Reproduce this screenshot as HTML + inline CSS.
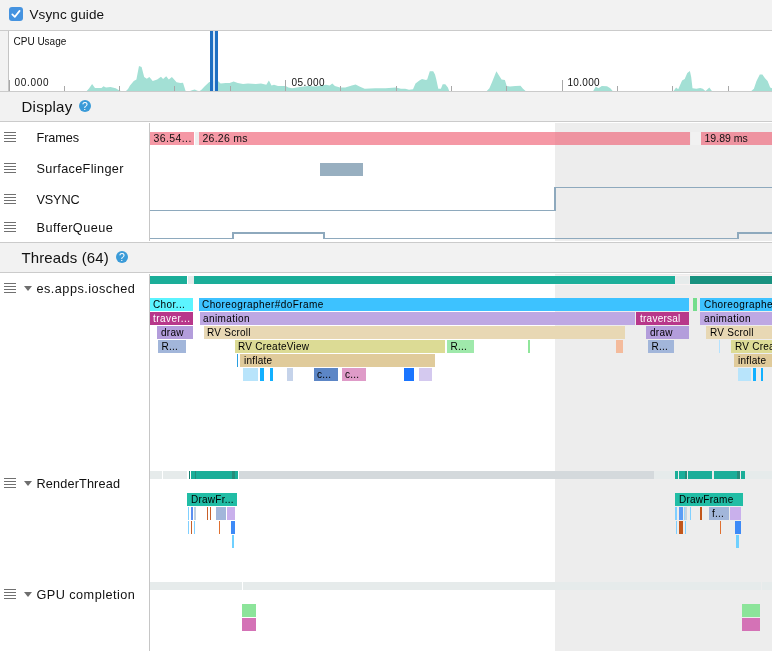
<!DOCTYPE html>
<html><head><meta charset="utf-8"><title>Profiler</title>
<style>
html,body{margin:0;padding:0;}
body{width:772px;height:651px;overflow:hidden;background:#fff;position:relative;will-change:transform;font-family:"Liberation Sans",sans-serif;color:#111;}
div,span{position:absolute;box-sizing:border-box;}
.panel{background:#f2f2f2;left:0;width:772px;}
.hl{left:0;width:772px;height:1px;background:#cbcbcb;}
.t13{font-size:12.7px;line-height:16px;white-space:nowrap;letter-spacing:0.25px;}
.t15{font-size:15px;line-height:18px;white-space:nowrap;}
.t10{font-size:10px;line-height:12px;white-space:nowrap;}
.bl{left:4px;width:12px;height:1px;background:#707070;}
.ev{overflow:hidden;}
.ev span{top:0;font-size:10px;line-height:13px;white-space:nowrap;letter-spacing:0.25px;}
.help{width:12px;height:12px;border-radius:6px;background:#3b9bd8;color:#fff;font-size:10.5px;font-weight:normal;line-height:13px;text-align:center;}
.tri{width:0;height:0;border-left:4px solid transparent;border-right:4px solid transparent;border-top:5px solid #6e6e6e;}
</style></head><body>
<!-- toolbar -->
<div class="panel" style="top:0;height:30px"></div>
<div class="hl" style="top:30px"></div>
<div style="left:9px;top:7px;width:14px;height:14px;border-radius:3px;background:#4593e0"><svg width="14" height="14" viewBox="0 0 14 14" style="position:absolute;left:0;top:0"><path d="M3.3 7.4 L5.8 9.9 L10.6 3.9" fill="none" stroke="#fff" stroke-width="1.7" stroke-linecap="round" stroke-linejoin="round"/></svg></div>
<div class="t13" style="left:29.5px;top:7px;font-size:13.5px;letter-spacing:0.1px">Vsync guide</div>
<!-- cpu -->
<div style="left:0;top:31px;width:8px;height:60px;background:#f2f2f2"></div>
<div style="left:8px;top:31px;width:1px;height:60px;background:#c4c4c4"></div>
<svg width="772" height="60" viewBox="0 0 772 60" style="position:absolute;left:0;top:31px">
<polygon points="86.7,60.0 89.0,57.5 92.1,53.0 95.0,56.9 101.5,56.9 103.5,55.3 106.0,56.6 110.5,55.9 115.7,57.2 119.0,59.2 121.0,60.0" fill="#a3e0d5"/>
<polygon points="126.0,60.0 128.0,58.0 130.0,54.6 133.8,49.9 136.4,48.6 139.0,35.1 141.6,35.9 144.2,46.0 146.8,47.8 149.4,46.0 152.7,49.9 157.2,48.6 161.0,45.8 163.1,48.1 166.2,45.2 168.8,48.6 171.9,46.0 176.6,51.2 180.5,52.0 183.0,51.7 185.6,60.0" fill="#a3e0d5"/>
<polygon points="190.0,60.0 192.0,59.2 194.7,58.5 197.5,59.8 199.0,60.0" fill="#a3e0d5"/>
<polygon points="199.5,60.0 201.2,59.0 205.0,55.0 209.0,51.2 214.1,49.4 218.0,50.0 220.6,52.5 225.8,52.0 229.7,52.0 233.6,50.4 237.8,52.0 243.0,53.0 248.0,52.5 255.9,53.0 261.0,52.5 266.3,53.8 268.9,49.4 271.5,54.6 274.0,53.8 278.0,55.0 285.7,55.0 288.3,56.6 292.2,57.2 300.0,56.0 307.7,55.0 315.5,55.6 325.9,53.8 329.7,54.6 332.3,52.5 334.9,55.0 340.0,56.4 345.3,56.6 351.8,54.6 355.6,53.5 359.5,55.6 364.7,57.7 375.0,57.2 385.4,57.2 395.8,56.6 401.0,57.7 405.2,57.7 409.0,58.7 413.0,58.2 415.5,52.5 419.4,49.4 422.0,48.1 425.9,49.1 427.2,48.6 429.8,40.3 433.2,40.3 435.0,43.4 436.3,48.6 438.3,57.7 440.9,57.7 442.7,53.3 445.3,53.3 447.9,56.4 449.2,60.0" fill="#a3e0d5"/>
<polygon points="486.8,60.0 489.4,57.2 492.0,51.2 494.6,44.7 496.4,40.3 498.4,43.4 501.6,48.6 504.9,49.1 506.7,55.1 510.0,55.6 515.3,55.1 520.5,54.8 523.0,57.7 525.6,60.0" fill="#a3e0d5"/>
<polygon points="593.2,60.0 595.8,55.6 598.4,57.2 601.8,55.1 607.0,55.3 610.3,57.2 612.7,60.0" fill="#a3e0d5"/>
<polygon points="673.6,60.0 676.1,56.4 678.2,58.2 682.1,49.4 684.7,48.1 687.3,42.1 689.9,40.0 691.2,46.0 692.5,57.2 696.4,57.7 700.2,56.9 702.8,57.7 705.4,60.0 706.7,59.0 709.3,56.6 711.9,60.0" fill="#a3e0d5"/>
<polygon points="751.3,60.0 753.9,57.7 756.5,49.9 759.8,43.4 762.4,43.4 765.0,47.3 767.6,49.9 770.2,56.4 772.0,57.2 772.0,60.0" fill="#a3e0d5"/>
<rect x="9" y="49" width="1" height="11" fill="#a8a8a8"/>
<rect x="64" y="55" width="1" height="5" fill="#a8a8a8"/>
<rect x="119" y="55" width="1" height="5" fill="#a8a8a8"/>
<rect x="174" y="55" width="1" height="5" fill="#a8a8a8"/>
<rect x="230" y="55" width="1" height="5" fill="#a8a8a8"/>
<rect x="285" y="49" width="1" height="11" fill="#a8a8a8"/>
<rect x="340" y="55" width="1" height="5" fill="#a8a8a8"/>
<rect x="396" y="55" width="1" height="5" fill="#a8a8a8"/>
<rect x="451" y="55" width="1" height="5" fill="#a8a8a8"/>
<rect x="506" y="55" width="1" height="5" fill="#a8a8a8"/>
<rect x="562" y="49" width="1" height="11" fill="#a8a8a8"/>
<rect x="617" y="55" width="1" height="5" fill="#a8a8a8"/>
<rect x="672" y="55" width="1" height="5" fill="#a8a8a8"/>
<rect x="728" y="55" width="1" height="5" fill="#a8a8a8"/>

<rect x="210" y="0" width="3" height="60" fill="#1e6fc2"/>
<rect x="213" y="0" width="2" height="60" fill="#d2e4f6" fill-opacity="0.9"/>
<rect x="215" y="0" width="3" height="60" fill="#1e6fc2"/>
</svg>
<div class="t10" style="left:13.5px;top:36px;letter-spacing:0">CPU Usage</div>
<div class="t10" style="left:14.5px;top:77px;letter-spacing:0.7px">00.000</div>
<div class="t10" style="left:291.5px;top:77px;letter-spacing:0.5px">05.000</div>
<div class="t10" style="left:567.5px;top:77px;letter-spacing:0.3px">10.000</div>
<div class="hl" style="top:91px"></div>
<!-- display header -->
<div class="panel" style="top:92px;height:29px"></div>
<div class="t15" style="left:21.5px;top:98px;letter-spacing:0.25px">Display</div>
<div class="help" style="left:79px;top:100px">?</div>
<div class="hl" style="top:121px"></div>
<!-- display rows -->
<div class="bl" style="top:132px"></div><div class="bl" style="top:135px"></div><div class="bl" style="top:138px"></div><div class="bl" style="top:141px"></div>
<div class="bl" style="top:163px"></div><div class="bl" style="top:166px"></div><div class="bl" style="top:169px"></div><div class="bl" style="top:172px"></div>
<div class="bl" style="top:194px"></div><div class="bl" style="top:197px"></div><div class="bl" style="top:200px"></div><div class="bl" style="top:203px"></div>
<div class="bl" style="top:222px"></div><div class="bl" style="top:225px"></div><div class="bl" style="top:228px"></div><div class="bl" style="top:231px"></div>

<div class="t13" style="left:36.5px;top:129.5px;letter-spacing:-0.1px">Frames</div>
<div class="t13" style="left:36.5px;top:160.5px;letter-spacing:0.34px">SurfaceFlinger</div>
<div class="t13" style="left:36.5px;top:191.5px;letter-spacing:-0.16px">VSYNC</div>
<div class="t13" style="left:36.5px;top:219.5px;letter-spacing:0.45px">BufferQueue</div>
<div style="left:149px;top:123px;width:1px;height:118px;background:#c6c6c6"></div>
<div style="left:555px;top:123px;width:217px;height:118px;background:#ededed"></div>
<!-- frames -->
<div class="ev" style="left:150px;top:132px;width:44px;height:13px;background:#f598a5"><span style="left:3.5px;font-size:10.5px;letter-spacing:0.4px">36.54...</span></div>
<div style="left:195px;top:132px;width:3.5px;height:13px;background:#efefef"></div>
<div class="ev" style="left:199px;top:132px;width:491px;height:13px;background:linear-gradient(90deg,#f598a5 356px,#ee93a0 356px)"><span style="left:3.5px;font-size:10.5px;letter-spacing:0.25px">26.26 ms</span></div>
<div style="left:690.5px;top:132px;width:10px;height:13px;background:#f1f1f1"></div>
<div class="ev" style="left:701px;top:132px;width:71px;height:13px;background:#ee93a0"><span style="left:3.5px;font-size:10.5px;letter-spacing:0.02px">19.89 ms</span></div>
<!-- surfaceflinger -->
<div style="left:320px;top:163px;width:43px;height:13px;background:#98afc0"></div>
<!-- vsync -->
<div style="left:150px;top:210px;width:406px;height:1px;background:#8ea9bd"></div>
<div style="left:554px;top:187px;width:2px;height:24px;background:#8ea9bd"></div>
<div style="left:554px;top:187px;width:218px;height:1px;background:#8ea9bd"></div>
<!-- bufferqueue -->
<div style="left:150px;top:238px;width:84px;height:1px;background:#8ea9bd"></div>
<div style="left:232px;top:232px;width:2px;height:7px;background:#8ea9bd"></div>
<div style="left:232px;top:232px;width:93px;height:2px;background:#8ea9bd"></div>
<div style="left:323px;top:232px;width:2px;height:7px;background:#8ea9bd"></div>
<div style="left:323px;top:238px;width:416px;height:1px;background:#8ea9bd"></div>
<div style="left:737px;top:232px;width:2px;height:7px;background:#8ea9bd"></div>
<div style="left:737px;top:232px;width:35px;height:2px;background:#8ea9bd"></div>
<div class="hl" style="top:242px"></div>
<!-- threads header -->
<div class="panel" style="top:243px;height:29px"></div>
<div class="t15" style="left:21.5px;top:249px;letter-spacing:0.12px">Threads (64)</div>
<div class="help" style="left:116px;top:251px">?</div>
<div class="hl" style="top:272px"></div>
<!-- threads -->
<div style="left:555px;top:274px;width:217px;height:377px;background:#ededed"></div>
<div style="left:149px;top:274px;width:1px;height:377px;background:#c6c6c6"></div>
<div class="bl" style="top:283px"></div><div class="bl" style="top:286px"></div><div class="bl" style="top:289px"></div><div class="bl" style="top:292px"></div>
<div class="bl" style="top:478px"></div><div class="bl" style="top:481px"></div><div class="bl" style="top:484px"></div><div class="bl" style="top:487px"></div>
<div class="bl" style="top:589px"></div><div class="bl" style="top:592px"></div><div class="bl" style="top:595px"></div><div class="bl" style="top:598px"></div>

<div class="tri" style="left:24px;top:286px"></div>
<div class="tri" style="left:24px;top:481px"></div>
<div class="tri" style="left:24px;top:592px"></div>
<div class="t13" style="left:36.5px;top:281px;letter-spacing:0.47px">es.apps.iosched</div>
<div class="t13" style="left:36.5px;top:475.5px;letter-spacing:0.15px">RenderThread</div>
<div class="t13" style="left:36.5px;top:586.5px;letter-spacing:0.45px">GPU completion</div>
<div class="sb" style="left:555px;top:275px;width:217px;height:1px;background:#f8f2f2"></div>
<div class="sb" style="left:555px;top:284px;width:217px;height:1px;background:#f8f2f2"></div>
<div class="sb" style="left:150px;top:276px;width:37px;height:8px;background:#1bae99"></div>
<div class="sb" style="left:188px;top:276px;width:5.5px;height:8px;background:#e6ebeb"></div>
<div class="sb" style="left:194px;top:276px;width:481px;height:8px;background:#1bae99"></div>
<div class="sb" style="left:676px;top:276px;width:13px;height:8px;background:#e6ebeb"></div>
<div class="sb" style="left:690px;top:276px;width:82px;height:8px;background:#18917f"></div>
<div class="sb" style="left:150px;top:471px;width:12px;height:8px;background:#e6ebeb"></div>
<div class="sb" style="left:163px;top:471px;width:24px;height:8px;background:#e6ebeb"></div>
<div class="sb" style="left:189px;top:471px;width:1px;height:8px;background:#157f6f"></div>
<div class="sb" style="left:191px;top:471px;width:47px;height:8px;background:#1bae99"></div>
<div class="sb" style="left:195px;top:471px;width:1px;height:8px;background:#268c7a"></div>
<div class="sb" style="left:232px;top:471px;width:3px;height:8px;background:#268c7a"></div>
<div class="sb" style="left:239px;top:471px;width:415px;height:8px;background:#d4d9dc"></div>
<div class="sb" style="left:654px;top:471px;width:21px;height:8px;background:#e6ebeb"></div>
<div class="sb" style="left:675px;top:471px;width:3px;height:8px;background:#1bae99"></div>
<div class="sb" style="left:679px;top:471px;width:8px;height:8px;background:#1bae99"></div>
<div class="sb" style="left:685px;top:471px;width:2px;height:8px;background:#268c7a"></div>
<div class="sb" style="left:688px;top:471px;width:24px;height:8px;background:#1bae99"></div>
<div class="sb" style="left:714px;top:471px;width:26px;height:8px;background:#1bae99"></div>
<div class="sb" style="left:737px;top:471px;width:3px;height:8px;background:#268c7a"></div>
<div class="sb" style="left:741px;top:471px;width:4px;height:8px;background:#1bae99"></div>
<div class="sb" style="left:745px;top:471px;width:27px;height:8px;background:#e6ebeb"></div>
<div class="sb" style="left:150px;top:582px;width:92px;height:8px;background:#e6ebeb"></div>
<div class="sb" style="left:243px;top:582px;width:518px;height:8px;background:#e6ebeb"></div>
<div class="sb" style="left:762px;top:582px;width:10px;height:8px;background:#e6ebeb"></div>

<div class="ev " style="left:150px;top:298px;width:43px;height:13px;background:#5cf4ff"><span style="left:3px;color:#000;letter-spacing:0.4px">Chor...</span></div>
<div class="ev " style="left:199px;top:298px;width:490px;height:13px;background:#3dc2ff"><span style="left:3px;color:#000;letter-spacing:0.42px">Choreographer#doFrame</span></div>
<div class="ev " style="left:693px;top:298px;width:4px;height:13px;background:#74dd8c"></div>
<div class="ev " style="left:700px;top:298px;width:72px;height:13px;background:#3dc2ff"><span style="left:4px;color:#000;letter-spacing:0.42px">Choreographer#doFrame</span></div>
<div class="ev " style="left:150px;top:312px;width:43px;height:13px;background:#b8378a"><span style="left:3px;color:#fff;letter-spacing:0.45px">traver...</span></div>
<div class="ev " style="left:200px;top:312px;width:435px;height:13px;background:#bea8e3"><span style="left:3px;color:#000;letter-spacing:0.4px">animation</span></div>
<div class="ev " style="left:636px;top:312px;width:53px;height:13px;background:#b8378a"><span style="left:4px;color:#fff">traversal</span></div>
<div class="ev " style="left:700px;top:312px;width:72px;height:13px;background:#bea8e3"><span style="left:4px;color:#000;letter-spacing:0.4px">animation</span></div>
<div class="ev " style="left:157px;top:326px;width:36px;height:13px;background:#b39ddb"><span style="left:4px;color:#000">draw</span></div>
<div class="ev " style="left:204px;top:326px;width:421px;height:13px;background:#e8d8b4"><span style="left:3px;color:#000">RV Scroll</span></div>
<div class="ev " style="left:646px;top:326px;width:43px;height:13px;background:#b39ddb"><span style="left:4px;color:#000">draw</span></div>
<div class="ev " style="left:706px;top:326px;width:66px;height:13px;background:#e8d8b4"><span style="left:4px;color:#000">RV Scroll</span></div>
<div class="ev " style="left:158px;top:340px;width:28px;height:13px;background:#a2b6da"><span style="left:3.5px;color:#000">R...</span></div>
<div class="ev " style="left:235px;top:340px;width:210px;height:13px;background:#dcdb95"><span style="left:3px;color:#000">RV CreateView</span></div>
<div class="ev " style="left:447px;top:340px;width:27px;height:13px;background:#9fe9ab"><span style="left:3.5px;color:#000">R...</span></div>
<div class="ev " style="left:528px;top:340px;width:2px;height:13px;background:#90e69b"></div>
<div class="ev " style="left:616px;top:340px;width:7px;height:13px;background:#f4bb9c"></div>
<div class="ev " style="left:648px;top:340px;width:26px;height:13px;background:#a2b6da"><span style="left:3.5px;color:#000">R...</span></div>
<div class="ev " style="left:719px;top:340px;width:1px;height:13px;background:#b4e2ff"></div>
<div class="ev " style="left:731px;top:340px;width:41px;height:13px;background:#dcdb95"><span style="left:4px;color:#000">RV CreateView</span></div>
<div class="ev " style="left:237px;top:354px;width:1px;height:13px;background:#2a9fe0"></div>
<div class="ev " style="left:240px;top:354px;width:195px;height:13px;background:#e0cb9b"><span style="left:4px;color:#000">inflate</span></div>
<div class="ev " style="left:734px;top:354px;width:38px;height:13px;background:#e0cb9b"><span style="left:4px;color:#000">inflate</span></div>
<div class="ev " style="left:243px;top:368px;width:15px;height:13px;background:#b8e4fb"></div>
<div class="ev " style="left:260px;top:368px;width:4px;height:13px;background:#12b0ff"></div>
<div class="ev " style="left:270px;top:368px;width:3px;height:13px;background:#12b0ff"></div>
<div class="ev " style="left:287px;top:368px;width:6px;height:13px;background:#c5d3ea"></div>
<div class="ev " style="left:314px;top:368px;width:24px;height:13px;background:#5c86c6"><span style="left:3px;color:#000">c...</span></div>
<div class="ev " style="left:342px;top:368px;width:24px;height:13px;background:#df9bc8"><span style="left:3px;color:#000">c...</span></div>
<div class="ev " style="left:404px;top:368px;width:10px;height:13px;background:#1a75ff"></div>
<div class="ev " style="left:419px;top:368px;width:13px;height:13px;background:#d4c9ef"></div>
<div class="ev " style="left:738px;top:368px;width:13px;height:13px;background:#b8e4fb"></div>
<div class="ev " style="left:753px;top:368px;width:3px;height:13px;background:#12b0ff"></div>
<div class="ev " style="left:761px;top:368px;width:2px;height:13px;background:#12b0ff"></div>

<div class="ev " style="left:187px;top:493px;width:50px;height:13px;background:#21bda5"><span style="left:4px;color:#000">DrawFr...</span></div>
<div class="ev " style="left:188px;top:507px;width:1px;height:13px;background:#80d0ff"></div>
<div class="ev " style="left:191px;top:507px;width:2px;height:13px;background:#5c8ff0"></div>
<div class="ev " style="left:194px;top:507px;width:2px;height:13px;background:#c0d0e0"></div>
<div class="ev " style="left:207px;top:507px;width:1px;height:13px;background:#c8602a"></div>
<div class="ev " style="left:210px;top:507px;width:1px;height:13px;background:#c8602a"></div>
<div class="ev " style="left:216px;top:507px;width:10px;height:13px;background:#a2b6da"></div>
<div class="ev " style="left:227px;top:507px;width:8px;height:13px;background:#c9b0ec"></div>
<div class="ev " style="left:188px;top:521px;width:1px;height:13px;background:#80d0ff"></div>
<div class="ev " style="left:191px;top:521px;width:1px;height:13px;background:#c8602a"></div>
<div class="ev " style="left:194px;top:521px;width:1px;height:13px;background:#80d0ff"></div>
<div class="ev " style="left:219px;top:521px;width:1px;height:13px;background:#e07030"></div>
<div class="ev " style="left:231px;top:521px;width:4px;height:13px;background:#3d8af7"></div>
<div class="ev " style="left:232px;top:535px;width:2px;height:13px;background:#6fd0ff"></div>
<div class="ev " style="left:675px;top:493px;width:68px;height:13px;background:#21bda5"><span style="left:4px;color:#000">DrawFrame</span></div>
<div class="ev " style="left:675px;top:507px;width:2px;height:13px;background:#7fcfff"></div>
<div class="ev " style="left:679px;top:507px;width:4px;height:13px;background:#5c9df5"></div>
<div class="ev " style="left:684px;top:507px;width:1px;height:13px;background:#9ad6fb"></div>
<div class="ev " style="left:685px;top:507px;width:2px;height:13px;background:#c8d4e0"></div>
<div class="ev " style="left:690px;top:507px;width:1px;height:13px;background:#80d0ff"></div>
<div class="ev " style="left:700px;top:507px;width:2px;height:13px;background:#c2561a"></div>
<div class="ev " style="left:709px;top:507px;width:20px;height:13px;background:#a2b6da"><span style="left:3px;color:#000">f...</span></div>
<div class="ev " style="left:730px;top:507px;width:11px;height:13px;background:#c9b0ec"></div>
<div class="ev " style="left:676px;top:521px;width:1px;height:13px;background:#7fcfff"></div>
<div class="ev " style="left:679px;top:521px;width:4px;height:13px;background:#c2561a"></div>
<div class="ev " style="left:685px;top:521px;width:1px;height:13px;background:#7fcfff"></div>
<div class="ev " style="left:720px;top:521px;width:1px;height:13px;background:#e07030"></div>
<div class="ev " style="left:735px;top:521px;width:6px;height:13px;background:#3d8af7"></div>
<div class="ev " style="left:736px;top:535px;width:3px;height:13px;background:#6fd0ff"></div>

<div class="ev " style="left:242px;top:604px;width:14px;height:13px;background:#8ce49a"></div>
<div class="ev " style="left:242px;top:618px;width:14px;height:13px;background:#d472b6"></div>
<div class="ev " style="left:742px;top:604px;width:18px;height:13px;background:#8ce49a"></div>
<div class="ev " style="left:742px;top:618px;width:18px;height:13px;background:#d472b6"></div>

</body></html>
